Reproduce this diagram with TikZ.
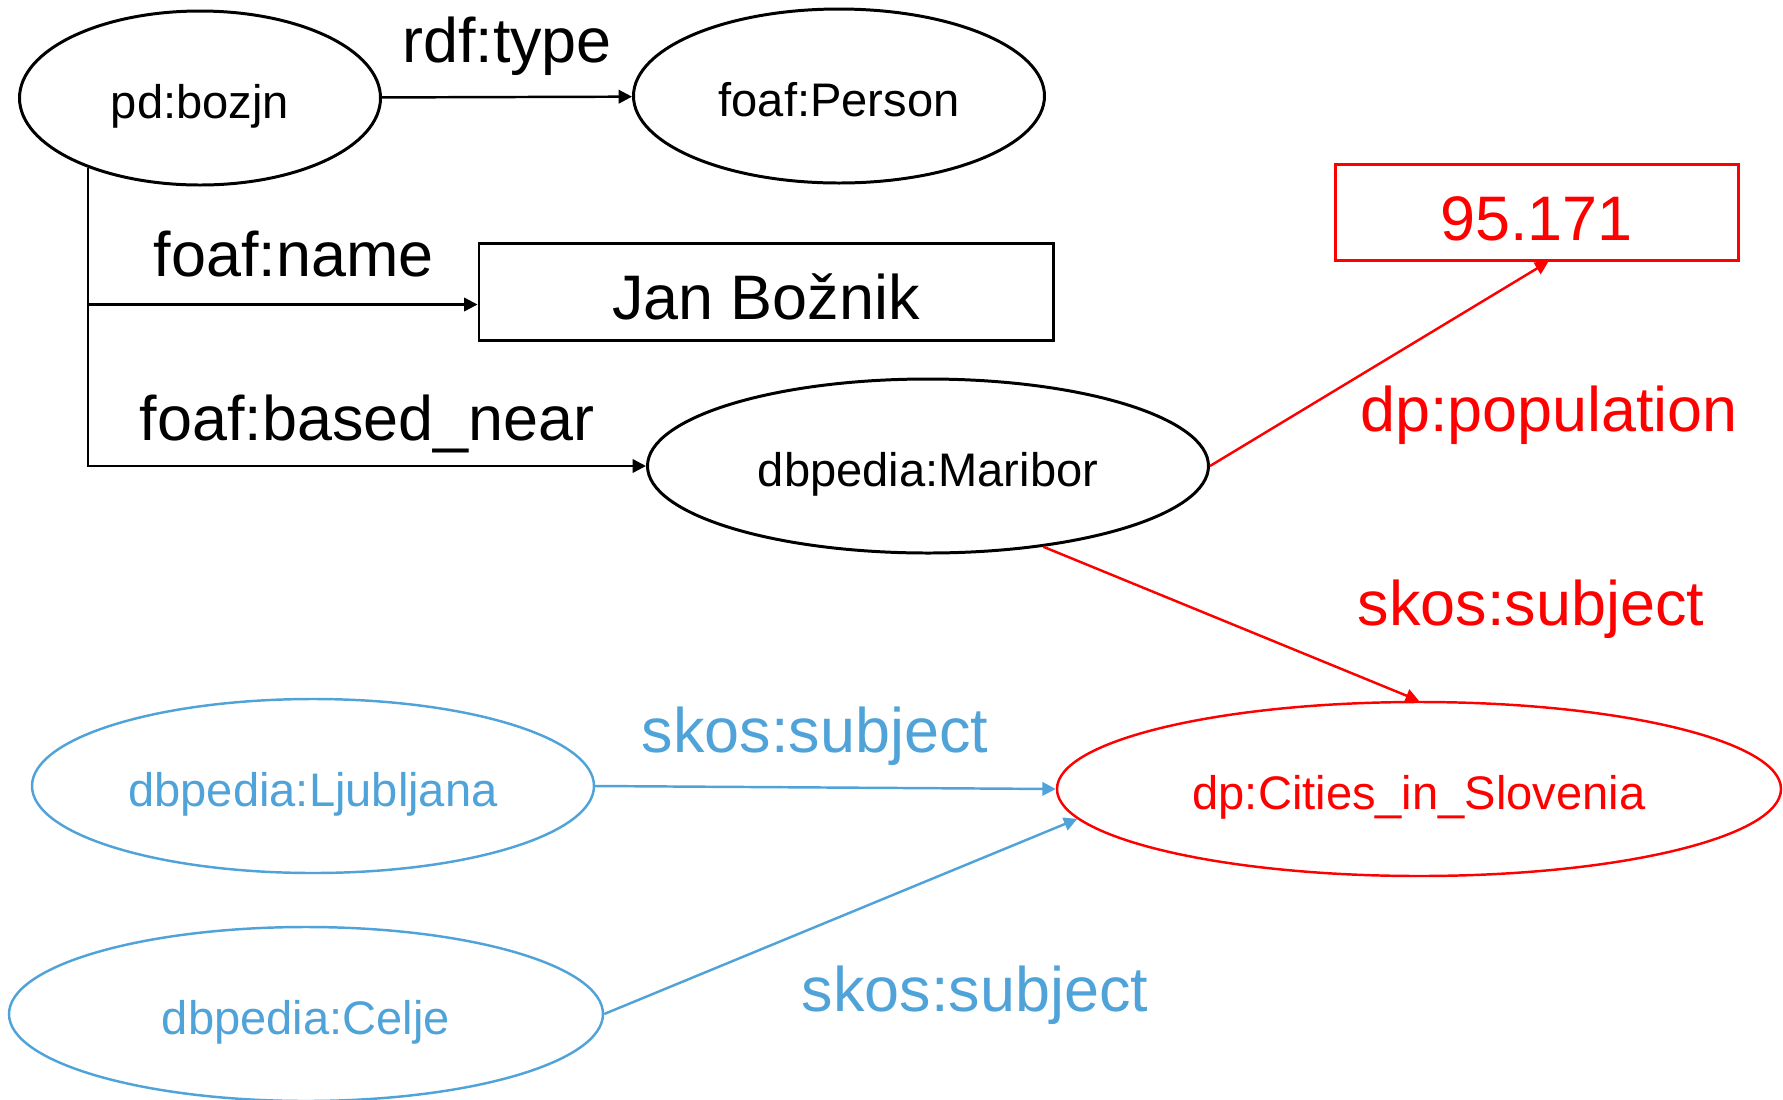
\documentclass[tikz,border=0pt]{standalone}
\usepackage{fontspec}
\setmainfont{Liberation Sans}
\usepackage{xcolor}
\usepackage{tikz}
\usetikzlibrary{shapes.geometric, arrows.meta}
\definecolor{cityblue}{RGB}{79,163,216}
\tikzstyle{resource} = [ellipse, minimum height=1.74cm, inner sep=0pt, text height=14pt, text depth=2.5pt, draw=black, line width=0.85pt, font=\fontsize{13.4}{16}\selectfont]
\tikzstyle{literal} = [rectangle, minimum height=0.97cm, inner sep=0pt, text height=16pt, text depth=0pt, draw=black, line width=0.85pt, font=\fontsize{17.9}{21}\selectfont]
\tikzstyle{prop} = [inner sep=0pt, font=\fontsize{17.9}{21}\selectfont]
\tikzstyle{arrow} = [line width=0.7pt, -{Triangle[length=3.8pt,width=3.8pt]}]

\begin{document}
\begin{tikzpicture}
\useasboundingbox (0,0) rectangle (17.83,-10.99);

\node (bozjn) [resource, minimum width=3.61cm] at (2.00,-0.98) {pd:bozjn};
\node (person) [resource, minimum width=4.11cm] at (8.39,-0.96) {foaf:Person};
\node (jan) [literal, minimum width=5.74cm] at (7.66,-2.915) {Jan Božnik};
\node (maribor) [resource, minimum width=5.61cm] at (9.28,-4.66) {dbpedia:Maribor};
\node (pop) [literal, draw=red, text=red, minimum width=4.03cm, minimum height=0.96cm] at (15.365,-2.12) {95.171};
\node (cities) [resource, draw=red, text=red, line width=0.7pt, minimum width=7.24cm] at (14.19,-7.89) {dp:Cities\_in\_Slovenia};
\node (lju) [resource, draw=cityblue, text=cityblue, line width=0.7pt, minimum width=5.62cm] at (3.13,-7.86) {dbpedia:Ljubljana};
\node (celje) [resource, draw=cityblue, text=cityblue, line width=0.7pt, minimum width=5.94cm] at (3.06,-10.14) {dbpedia:Celje};

\draw [arrow] (bozjn) -- node[prop, above=0.20cm] {rdf:type} (person);
\draw [arrow] (bozjn.212) |- node[prop, pos=0.75, above=0.26cm, xshift=0.11cm] {foaf:name} ([yshift=-0.13cm]jan.west);
\draw [arrow] (bozjn.212) |- node[prop, pos=0.75, above=0.12cm] {foaf:based\_near} (maribor.west);

\draw [arrow, red] (maribor.east) -- ([xshift=0.12cm]pop.south);
\node (poplabel) [prop, red] at (15.49,-4.15) {dp:population};
\draw [arrow, red] (maribor.-35) -- (cities.north);
\node (subjred) [prop, red] at (15.31,-6.09) {skos:subject};

\draw [arrow, cityblue] (lju.east) -- (cities.west);
\node (subjlju) [prop, cityblue] at (8.15,-7.36) {skos:subject};
\draw [arrow, cityblue] (celje.east) -- (cities.185);
\node (subjcelje) [prop, cityblue] at (9.75,-9.95) {skos:subject};

\end{tikzpicture}
\end{document}
